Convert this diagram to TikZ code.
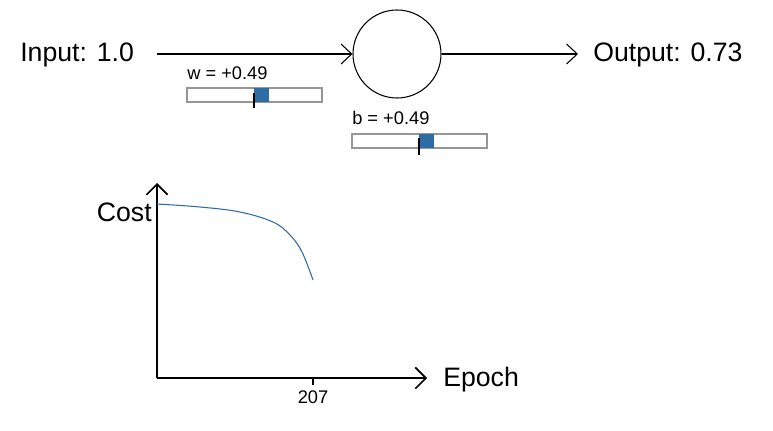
\documentclass[tikz,border=0pt]{standalone}
\usepackage{fontspec}
\setmainfont{Liberation Sans}
\usetikzlibrary{arrows.meta}
\definecolor{sliderblue}{RGB}{46,109,164}
\definecolor{slidergray}{RGB}{150,150,150}
\begin{document}
\begin{tikzpicture}
    [
        x = 0.75pt, y = -0.75pt,
        big/.style = {font = \fontsize{20}{24}\selectfont, inner sep = 0pt},
        small/.style = {font = \fontsize{13.7}{16}\selectfont, inner sep = 0pt},
        wire/.style = {line width = 0.8pt, -{Straight Barb[length = 8pt, width = 15pt]}},
        axis/.style = {line width = 1.2pt, -{Straight Barb[length = 8pt, width = 16pt]}},
        track/.style = {draw = slidergray, line width = 0.8pt, fill = white},
        knob/.style = {fill = sliderblue}
    ]

        \useasboundingbox (0,0) rectangle (773,431);

        % neuron
        \node[draw, circle, line width = 0.8pt, minimum size = 66pt, inner sep = 0pt] (neuron) at (397,54) {};
        \node[big, anchor = base west] (input) at (20,62) {Input: 1.0};
        \node[big, anchor = base west] (output) at (593,62) {Output: 0.73};
        \coordinate (inStart) at (157,54);
        \coordinate (outEnd) at (578,54);
        \draw[wire] (inStart) -- (neuron);
        \draw[wire] (neuron) -- (outEnd);

        % sliders
        \node[small, anchor = base west] (wLabel) at (187,80) {w = +0.49};
        \draw[track] (187,88) rectangle (322,102);
        \fill[knob] (254,88) rectangle (269,102);
        \draw[line width = 0.8pt] (254,93) -- (254,108);

        \node[small, anchor = base west] (bLabel) at (352,125) {b = +0.49};
        \draw[track] (352,134) rectangle (487,148);
        \fill[knob] (419,134) rectangle (434,148);
        \draw[line width = 0.8pt] (419,138) -- (419,155);

        % cost plot
        \coordinate (origin) at (157,378);
        \coordinate (yTop) at (157,183);
        \coordinate (xEnd) at (427,378);
        \draw[axis] (origin) -- (yTop);
        \draw[axis] (origin) -- (xEnd);
        \node[big, anchor = base east] (cost) at (152,221) {Cost};
        \node[big, anchor = base west] (epoch) at (443,386) {Epoch};
        \draw[line width = 0.8pt] (313,378) -- (313,385);
        \node[small, anchor = base] (tick) at (313,403) {207};
        \draw[sliderblue, line width = 0.8pt] plot[smooth, tension = 0.6] coordinates
            {(157,204) (200,207) (240,212) (273,222) (290,235) (302,252) (313,280)};
    \end{tikzpicture}
\end{document}
